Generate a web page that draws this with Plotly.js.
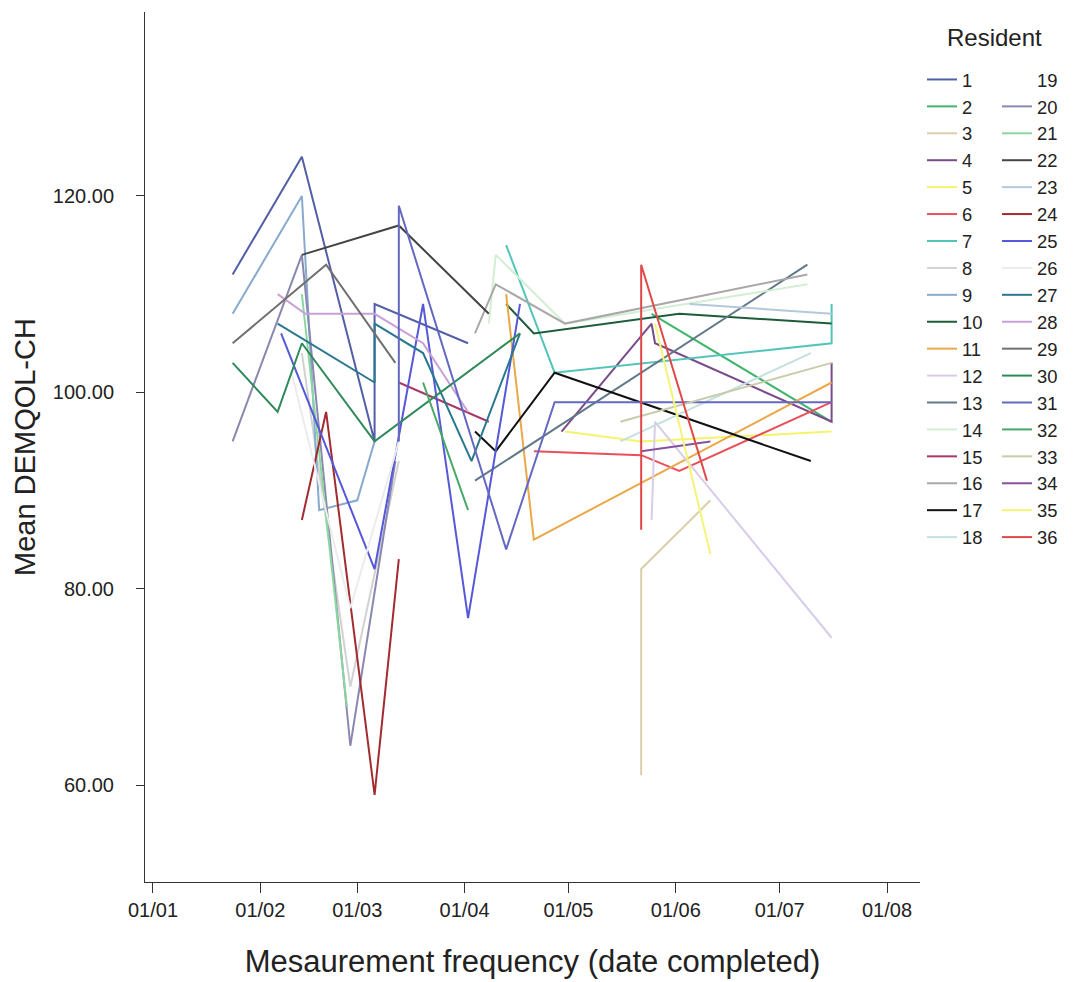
<!DOCTYPE html>
<html>
<head>
<meta charset="utf-8">
<script src="https://cdn.plot.ly/plotly-3.0.1.min.js"></script>
<style>html,body{margin:0;padding:0;background:#fff;}#chart{width:1075px;height:982px;}</style>
</head>
<body>
<div id="chart"></div>
<script>
// ---- Data (date completed, mean DEMQOL-CH) ----
const residents = ['1','2','3','4','5','6','7','8','9','10','11','12','13','14','15','16','17','18',
                   '19','20','21','22','23','24','25','26','27','28','29','30','31','32','33','34','35','36'];

const d1 = ['2019-01-24','2019-02-13','2019-03-06','2019-03-06','2019-04-02'];  const v1 = [112,124,95,109,105];
const d2 = ['2019-05-25','2019-07-16'];                                          const v2 = [108,97];
const d3 = ['2019-05-22','2019-05-22','2019-06-11'];                             const v3 = [61,82,89];
const d4 = ['2019-04-29','2019-05-25','2019-05-26','2019-07-16','2019-07-16'];  const v4 = [96,107,105,97,103];
const d5 = ['2019-04-30','2019-05-22','2019-07-16'];                             const v5 = [96,95,96];
const d6 = ['2019-04-21','2019-05-22','2019-06-02','2019-07-16'];                const v6 = [94,93.6,92,99];
const d7 = ['2019-04-13','2019-04-27','2019-07-16','2019-07-16'];                const v7 = [115,102,105,109];
const d8 = ['2019-02-13','2019-02-27','2019-03-13'];                             const v8 = [104,70,93];
const d9 = ['2019-01-24','2019-02-13','2019-02-18','2019-03-01','2019-03-06'];  const v9 = [108,120,88,89,95];
const d10 = ['2019-04-13','2019-04-21','2019-06-02','2019-07-16'];               const v10 = [109,106,108,107];
const d11 = ['2019-04-13','2019-04-21','2019-07-16'];                            const v11 = [110,85,101];
const d12 = ['2019-05-25','2019-05-26','2019-07-16'];                            const v12 = [87,97,75];
const d13 = ['2019-04-04','2019-07-09'];                                         const v13 = [91,113];
const d14 = ['2019-04-08','2019-04-10','2019-04-30','2019-07-09'];               const v14 = [107,114,107,111];
const d15 = ['2019-03-13','2019-04-08'];                                         const v15 = [101,97];
const d16 = ['2019-04-04','2019-04-10','2019-04-30','2019-07-09'];               const v16 = [106,111,107,112];
const d17 = ['2019-04-04','2019-04-10','2019-04-27','2019-07-10'];               const v17 = [96,94,102,93];
const d18 = ['2019-05-16','2019-07-10'];                                         const v18 = [95,104];
const d19 = ['2019-01-24'];                                                      const v19 = [null];
const d20 = ['2019-01-24','2019-02-13','2019-02-27','2019-03-12'];               const v20 = [95,114,64,93];
const d21 = ['2019-02-13','2019-02-26'];                                         const v21 = [110,68];
const d22 = ['2019-02-13','2019-03-13','2019-04-08'];                            const v22 = [114,117,108];
const d23 = ['2019-06-05','2019-07-16'];                                         const v23 = [109,108];
const d24 = ['2019-02-13','2019-02-20','2019-03-06','2019-03-13'];               const v24 = [87,98,59,83];
const d25 = ['2019-02-07','2019-03-06','2019-03-20','2019-04-02','2019-04-17']; const v25 = [106,82,109,77,109];
const d26 = ['2019-02-10','2019-02-27','2019-03-13'];                            const v26 = [102,78,95];
const d27 = ['2019-02-06','2019-03-06','2019-03-06','2019-03-20','2019-04-03','2019-04-17']; const v27 = [107,101,107,104,93,106];
const d28 = ['2019-02-06','2019-02-14','2019-03-06','2019-03-20','2019-04-02']; const v28 = [110,108,108,105,98];
const d29 = ['2019-01-24','2019-02-20','2019-03-12'];                            const v29 = [105,113,103];
const d30 = ['2019-01-24','2019-02-06','2019-02-13','2019-03-06','2019-04-17']; const v30 = [103,98,105,95,106];
const d31 = ['2019-03-13','2019-03-13','2019-04-13','2019-04-27','2019-07-16']; const v31 = [95,119,84,99,99];
const d32 = ['2019-03-20','2019-04-02'];                                         const v32 = [101,88];
const d33 = ['2019-05-16','2019-07-16'];                                         const v33 = [97,103];
const d34 = ['2019-05-22','2019-06-11'];                                         const v34 = [94,95];
const d35 = ['2019-05-26','2019-06-11'];                                         const v35 = [107,83.5];
const d36 = ['2019-05-22','2019-05-22','2019-06-10'];                            const v36 = [86,113,91];

const xTickVals = ['2019-01-01','2019-02-01','2019-03-01','2019-04-01','2019-05-01','2019-06-01','2019-07-01','2019-08-01'];
const yTickVals = [60, 80, 100, 120];

// ---- Styles ----
const colors = ['#525fa6','#3fb56e','#d8d0a8','#7a4a8a','#f4f46c','#e8505c','#52c4b8','#d2d2d2','#88aacc',
                '#1d5c3a','#eaa848','#d8cce8','#607888','#d4eed4','#a83a68','#a8a8a8','#111111','#c4e0e0',
                'rgba(255,255,255,0)','#8a88b0','#8ad8a0','#444444','#b4c8dc','#a02c30','#5558d8','#ececec',
                '#2a7890','#c8a0d8','#707070','#2e8a5a','#6468c0','#48a868','#c8ccaa','#8a50a0','#f4f478','#e04848'];

const allDates = [d1,d2,d3,d4,d5,d6,d7,d8,d9,d10,d11,d12,d13,d14,d15,d16,d17,d18,
                  d19,d20,d21,d22,d23,d24,d25,d26,d27,d28,d29,d30,d31,d32,d33,d34,d35,d36];
const allVals = [v1,v2,v3,v4,v5,v6,v7,v8,v9,v10,v11,v12,v13,v14,v15,v16,v17,v18,
                 v19,v20,v21,v22,v23,v24,v25,v26,v27,v28,v29,v30,v31,v32,v33,v34,v35,v36];

const FONT = 'Liberation Sans, Arial, sans-serif';

const traces = residents.map((name, i) => ({
  type: 'scatter',
  mode: 'lines',
  name: name,
  x: allDates[i],
  y: allVals[i],
  line: {color: colors[i], width: 2},
  legend: i < 18 ? 'legend' : 'legend2',
  showlegend: true,
  hoverinfo: 'x+y+name'
}));

const L = 145, R = 920, T = 12, B = 882;
const legendStyle = {
  orientation: 'v',
  xanchor: 'left', yanchor: 'top',
  y: 1 - (61 - T) / (B - T),
  font: {family: FONT, size: 18.4, color: '#222'},
  bgcolor: 'rgba(0,0,0,0)',
  borderwidth: 0,
  tracegroupgap: 0,
  itemclick: false, itemdoubleclick: false
};

const layout = {
  width: 1075, height: 982,
  margin: {l: L, r: 1075 - R, t: T, b: 982 - B, pad: 0},
  paper_bgcolor: '#ffffff', plot_bgcolor: '#ffffff',
  font: {family: FONT, color: '#222'},
  showlegend: true,
  legend: Object.assign({}, legendStyle, {x: (922 - L) / (R - L)}),
  legend2: Object.assign({}, legendStyle, {x: (997 - L) / (R - L)}),
  xaxis: {
    type: 'date',
    range: ['2018-12-29 16:36', '2019-08-10 12:43'],
    tickmode: 'array', tickvals: xTickVals, tickformat: '%d/%m',
    ticks: 'outside', ticklen: 10, tickcolor: '#333', tickwidth: 1,
    tickfont: {family: FONT, size: 20, color: '#222'},
    showline: true, linecolor: '#333', linewidth: 1, mirror: false,
    showgrid: false, zeroline: false,
    title: {text: 'Mesaurement frequency (date completed)', font: {family: FONT, size: 31, color: '#222'}, standoff: 30}
  },
  yaxis: {
    range: [50.12, 138.74],
    tickmode: 'array', tickvals: yTickVals, tickformat: '.2f',
    ticks: 'outside', ticklen: 8, tickcolor: '#333', tickwidth: 1,
    ticklabelstandoff: 18,
    tickfont: {family: FONT, size: 20, color: '#222'},
    showline: true, linecolor: '#333', linewidth: 1, mirror: false,
    showgrid: false, zeroline: false,
    title: {text: 'Mean DEMQOL-CH', font: {family: FONT, size: 29, color: '#222'}, standoff: 8}
  },
  annotations: [{
    text: 'Resident', xref: 'paper', yref: 'paper',
    x: (995 - L) / (R - L), y: 1 - (38 - T) / (B - T),
    xanchor: 'center', yanchor: 'middle', showarrow: false,
    font: {family: FONT, size: 24, color: '#222'}
  }]
};

Plotly.newPlot('chart', traces, layout, {displayModeBar: false, staticPlot: true});
</script>
</body>
</html>
